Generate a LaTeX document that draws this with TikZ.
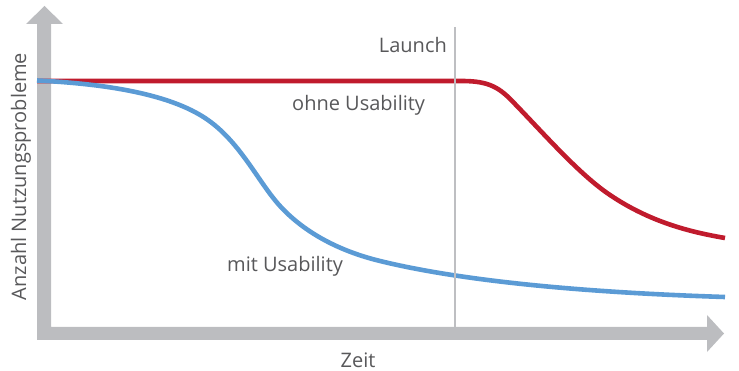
\documentclass[tikz,border=0pt]{standalone}
\usepackage{fontspec}
\setmainfont{Open Sans}
\definecolor{axisgray}{HTML}{BCBDC0}
\definecolor{launchgray}{HTML}{BEBFC2}
\definecolor{curvered}{HTML}{C01B2D}
\definecolor{curveblue}{HTML}{5B9BD5}
\definecolor{labeltext}{HTML}{58585A}
\tikzset{
  curve/.style={line width=4.6pt, line cap=butt, line join=round},
  lbl/.style={text=labeltext, font=\fontsize{20}{22}\selectfont, inner sep=0pt}
}
\begin{document}
\begin{tikzpicture}[x=1pt,y=-1pt]
\useasboundingbox (0,0) rectangle (739,371);
% axes as one filled outline with both arrowheads
\fill[axisgray] (37,340) -- (37,24) -- (26,24) -- (44.5,6) -- (63,24) -- (51,24)
  -- (51,327) -- (707,327) -- (707,315) -- (724,333.5) -- (707,352) -- (707,340) -- cycle;
% curve without usability work: flat until after launch, then an S-shaped drop
\draw[curve, curvered] (37,81) -- (462,81)
  .. controls (490,81) and (500,88) .. (515,104)
  .. controls (545,135) and (580,175) .. (610,195)
  .. controls (650,222) and (690,232) .. (725,238);
% curve with usability work: early drop, long flat tail
\draw[curve, curveblue] (37,80.5)
  .. controls (110,84) and (170,95) .. (205,118)
  .. controls (240,141) and (258,182) .. (280,206)
  .. controls (302,230) and (335,250) .. (380,261)
  .. controls (470,283) and (600,293) .. (725,297);
% launch marker
\draw[launchgray, line width=1.8pt] (455,27) coordinate (ltop) -- (455,327) coordinate (lbot);
% labels
\node[lbl, anchor=base east] (launch) at (447,53) {Launch};
\node[lbl, anchor=base west] (ohne) at (292,111) {ohne Usability};
\node[lbl, anchor=base west] (mit) at (227,272) {mit Usability};
\node[lbl, anchor=base] (zeit) at (358,367) {Zeit};
\node[lbl, anchor=base, rotate=90] (yl) at (26,176.5) {Anzahl Nutzungsprobleme};
\end{tikzpicture}
\end{document}
